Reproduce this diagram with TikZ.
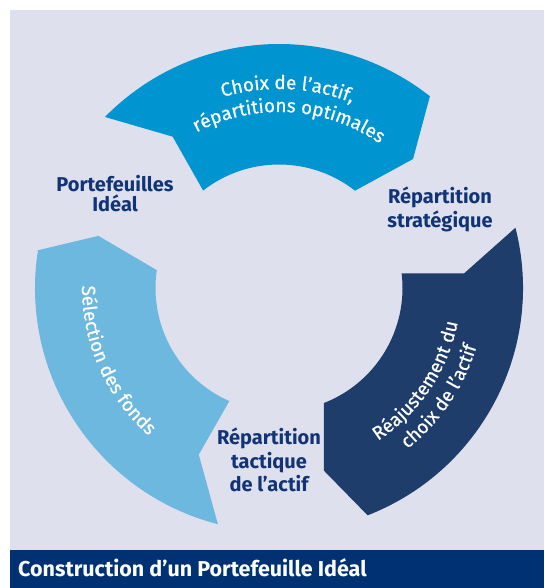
\documentclass[tikz,border=0pt]{standalone}
\usepackage{fontspec}
\setmainfont{Fira Sans}
\newfontfamily\curvefont[FakeBold=0.6]{Fira Sans}
\usetikzlibrary{decorations.text}
\definecolor{bgpanel}{RGB}{223,224,238}
\definecolor{segtop}{RGB}{0,148,208}
\definecolor{segleft}{RGB}{109,184,223}
\definecolor{segright}{RGB}{31,61,107}
\definecolor{labelblue}{RGB}{16,52,117}
\definecolor{barblue}{RGB}{0,50,115}
\begin{document}
\begin{tikzpicture}[x=1pt,y=1pt,
  steplabel/.style={font=\bfseries\fontsize{20}{23.3}\selectfont, text=labelblue, align=center, inner sep=0pt, anchor=base},
  curvetext/.style={decorate, decoration={text along path, text align=center, text color=white, text={|\curvefont\fontsize{19}{19}\selectfont|#1}}}]
\useasboundingbox (0,0) rectangle (544,588);
\fill[white] (0,0) rectangle (544,588);
\fill[bgpanel] (10,37) rectangle (544,578);
\fill[barblue] (10,0) rectangle (544,37.5);
\begin{scope}[shift={(279,300)}]
  % top segment
  \fill[segtop] (135.5:244pt) arc[start angle=135.5,end angle=51.8,radius=244pt]
     -- (43.9:186pt) -- (52:123.5pt) arc[start angle=52,end angle=127.9,radius=123.5pt]
     -- (125.1:185pt) -- cycle;
  % left segment
  \fill[segleft] (171.1:244pt) arc[start angle=171.1,end angle=255.5,radius=244pt]
     -- (244.3:185pt) -- (246.3:123.5pt) arc[start angle=246.3,end angle=171.7,radius=123.5pt]
     -- (163.9:188pt) -- cycle;
  % right segment
  \fill[segright] (14.3:244pt) arc[start angle=14.3,end angle=-68.7,radius=244pt]
     -- (-76.2:188pt) -- (-68.7:123.5pt) arc[start angle=-68.7,end angle=6.8,radius=123.5pt]
     -- (4.5:185.6pt) -- cycle;
  % curved texts
  \path[curvetext={Choix de l’actif,}]
     (137.5:199pt) arc[start angle=137.5,end angle=37.5,radius=199pt];
  \path[curvetext={répartitions optimales}]
     (146.5:176pt) arc[start angle=146.5,end angle=26.5,radius=176pt];
  \path[curvetext={Sélection des fonds}]
     (154:197pt) arc[start angle=154,end angle=254,radius=197pt];
  \path[curvetext={Réajustement du}]
     (-84:182pt) arc[start angle=-84,end angle=16,radius=182pt];
  \path[curvetext={choix de l’actif}]
     (-84:206pt) arc[start angle=-84,end angle=16,radius=206pt];
\end{scope}
\node[steplabel, font=\bfseries\fontsize{20}{19.5}\selectfont] (ideal) at (115,376.5) {Portefeuilles\\Idéal};
\node[steplabel, font=\bfseries\fontsize{20}{23.5}\selectfont] (strat) at (440,360.5) {Répartition\\stratégique};
\node[steplabel] (tact) at (269,96.5) {Répartition\\tactique\\de l’actif};
\node[font=\bfseries\fontsize{21.5}{21.5}\selectfont, text=white, inner sep=0pt, anchor=base west] (title) at (18,12) {Construction d’un Portefeuille Idéal};
\end{tikzpicture}
\end{document}
